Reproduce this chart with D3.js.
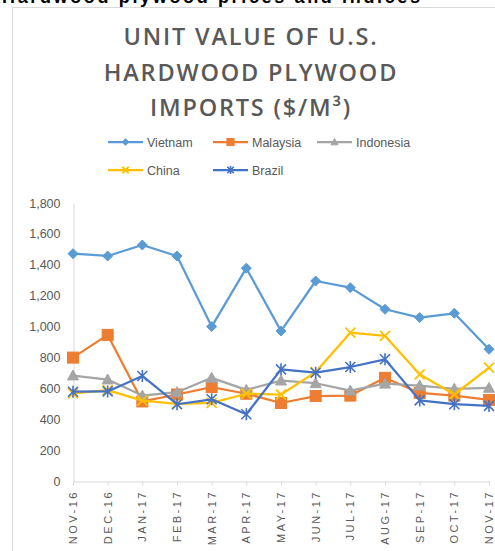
<!DOCTYPE html>
<html><head><meta charset="utf-8">
<script src="https://cdn.jsdelivr.net/npm/d3@7"></script>
<style>body{margin:0;background:#fff;}svg{display:block;}</style>
</head><body><svg id="c" width="495" height="551"></svg>
<script>
const months = ["NOV-16","DEC-16","JAN-17","FEB-17","MAR-17","APR-17","MAY-17","JUN-17","JUL-17","AUG-17","SEP-17","OCT-17","NOV-17"];
const vietnam   = [1472,1457,1528,1457,1000,1378,971,1295,1252,1112,1058,1086,853];
const malaysia  = [799,946,515,560,608,565,505,550,553,668,570,553,525];
const indonesia = [683,657,553,575,668,590,650,633,585,630,618,597,603];
const china     = [568,588,520,500,506,565,560,705,960,939,691,560,734];
const brazil    = [578,580,680,497,529,432,723,701,738,788,522,497,486];
const yTicks = [0,200,400,600,800,1000,1200,1400,1600,1800];

const seriesList = [
  {name:"Vietnam", values:vietnam, color:"#5b9bd5", marker:"diamond"},
  {name:"Malaysia", values:malaysia, color:"#ed7d31", marker:"square"},
  {name:"Indonesia", values:indonesia, color:"#a5a5a5", marker:"triangle"},
  {name:"China", values:china, color:"#ffc000", marker:"x"},
  {name:"Brazil", values:brazil, color:"#4472c4", marker:"star"}
];

const svg = d3.select("#c");
const txt = "#595959";

// heading above (cut off at top edge, as in the reference)
svg.append("text").attr("x",2).attr("y",3).attr("font-family","Liberation Sans, Arial").attr("font-weight","bold")
  .attr("font-size",18).attr("fill","#000").attr("textLength",418).text("Hardwood plywood prices and indices");

// frame
svg.append("rect").attr("x",12.5).attr("y",7.5).attr("width",500).attr("height",560)
  .attr("fill","none").attr("stroke","#d9d9d9").attr("stroke-width",1);

// title
const titleLines = ["UNIT VALUE OF U.S.","HARDWOOD PLYWOOD","IMPORTS ($/M³)"];
svg.append("g").selectAll("text").data(titleLines).join("text")
  .attr("x",251).attr("y",(d,i)=>45+i*35.5).attr("text-anchor","middle")
  .attr("font-family","Open Sans, sans-serif").attr("font-weight",600).attr("font-size",23.5)
  .attr("letter-spacing","1.8px").attr("fill",txt).text(d=>d);

const x = d3.scalePoint().domain(months).range([73,489]).padding(0);
const y = d3.scaleLinear().domain([0,1800]).range([481,203]);

// axes
const xAxis = svg.append("g").attr("transform","translate(0,481.5)")
  .call(d3.axisBottom(x).tickSize(4).tickSizeOuter(0).tickFormat(""));
xAxis.select(".domain").attr("stroke","#d9d9d9");
xAxis.selectAll(".tick line").attr("stroke","#d9d9d9");

svg.append("g").selectAll("text").data(months).join("text")
  .attr("transform",d=>`translate(${x(d)+4},490) rotate(-90)`)
  .attr("text-anchor","end").attr("font-family","Liberation Sans, Arial").attr("font-size",11)
  .attr("letter-spacing","2.5px").attr("fill",txt).text(d=>d);

const yAxis = svg.append("g").attr("transform","translate(73.5,0)")
  .call(d3.axisLeft(y).tickValues(yTicks).tickSize(0).tickPadding(13).tickFormat(d3.format(",")));
yAxis.select(".domain").attr("stroke","#d9d9d9");
yAxis.selectAll("text").attr("font-family","Liberation Sans, Arial").attr("font-size",12.5).attr("fill",txt);

function drawMarker(g, type, color, size){
  const s = size;
  if(type==="diamond"){
    g.append("path").attr("d",`M0,${-s}L${s},0L0,${s}L${-s},0Z`).attr("fill",color).attr("stroke",color);
  } else if(type==="square"){
    g.append("rect").attr("x",-s).attr("y",-s).attr("width",2*s).attr("height",2*s).attr("fill",color).attr("stroke",color);
  } else if(type==="triangle"){
    g.append("path").attr("d",`M0,${-s}L${s},${s*0.8}L${-s},${s*0.8}Z`).attr("fill",color).attr("stroke",color);
  } else if(type==="x"){
    g.append("path").attr("d",`M${-s},${-s}L${s},${s}M${-s},${s}L${s},${-s}`).attr("stroke",color).attr("stroke-width",1.8).attr("fill","none");
  } else if(type==="star"){
    g.append("path").attr("d",`M${-s},${-s}L${s},${s}M${-s},${s}L${s},${-s}M0,${-s*1.2}L0,${s*1.2}`).attr("stroke",color).attr("stroke-width",1.6).attr("fill","none");
  }
}
const mSize = {diamond:5, square:5.5, triangle:5.5, x:5, star:5};

const line = d3.line().x((d,i)=>x(months[i])).y(d=>y(d));
seriesList.forEach(s=>{
  const g = svg.append("g");
  g.append("path").datum(s.values).attr("d",line).attr("fill","none").attr("stroke",s.color)
    .attr("stroke-width",2.25).attr("stroke-linejoin","round");
  s.values.forEach((v,i)=>{
    const m = g.append("g").attr("transform",`translate(${x(months[i])},${y(v)})`);
    drawMarker(m, s.marker, s.color, mSize[s.marker]);
  });
});

// legend
const legendPos = [
  {x:108,y:142},{x:213,y:142},{x:317,y:142},{x:108,y:170},{x:213,y:170}
];
seriesList.forEach((s,i)=>{
  const p = legendPos[i];
  const g = svg.append("g").attr("transform",`translate(${p.x},${p.y})`);
  g.append("line").attr("x1",0).attr("x2",35).attr("y1",0).attr("y2",0).attr("stroke",s.color).attr("stroke-width",2.25);
  const m = g.append("g").attr("transform","translate(17.5,0)");
  drawMarker(m, s.marker, s.color, mSize[s.marker]*0.65);
  g.append("text").attr("x",39).attr("y",4.5).attr("font-family","Liberation Sans, Arial").attr("font-size",12.5)
    .attr("fill",txt).text(s.name);
});
</script></body></html>
